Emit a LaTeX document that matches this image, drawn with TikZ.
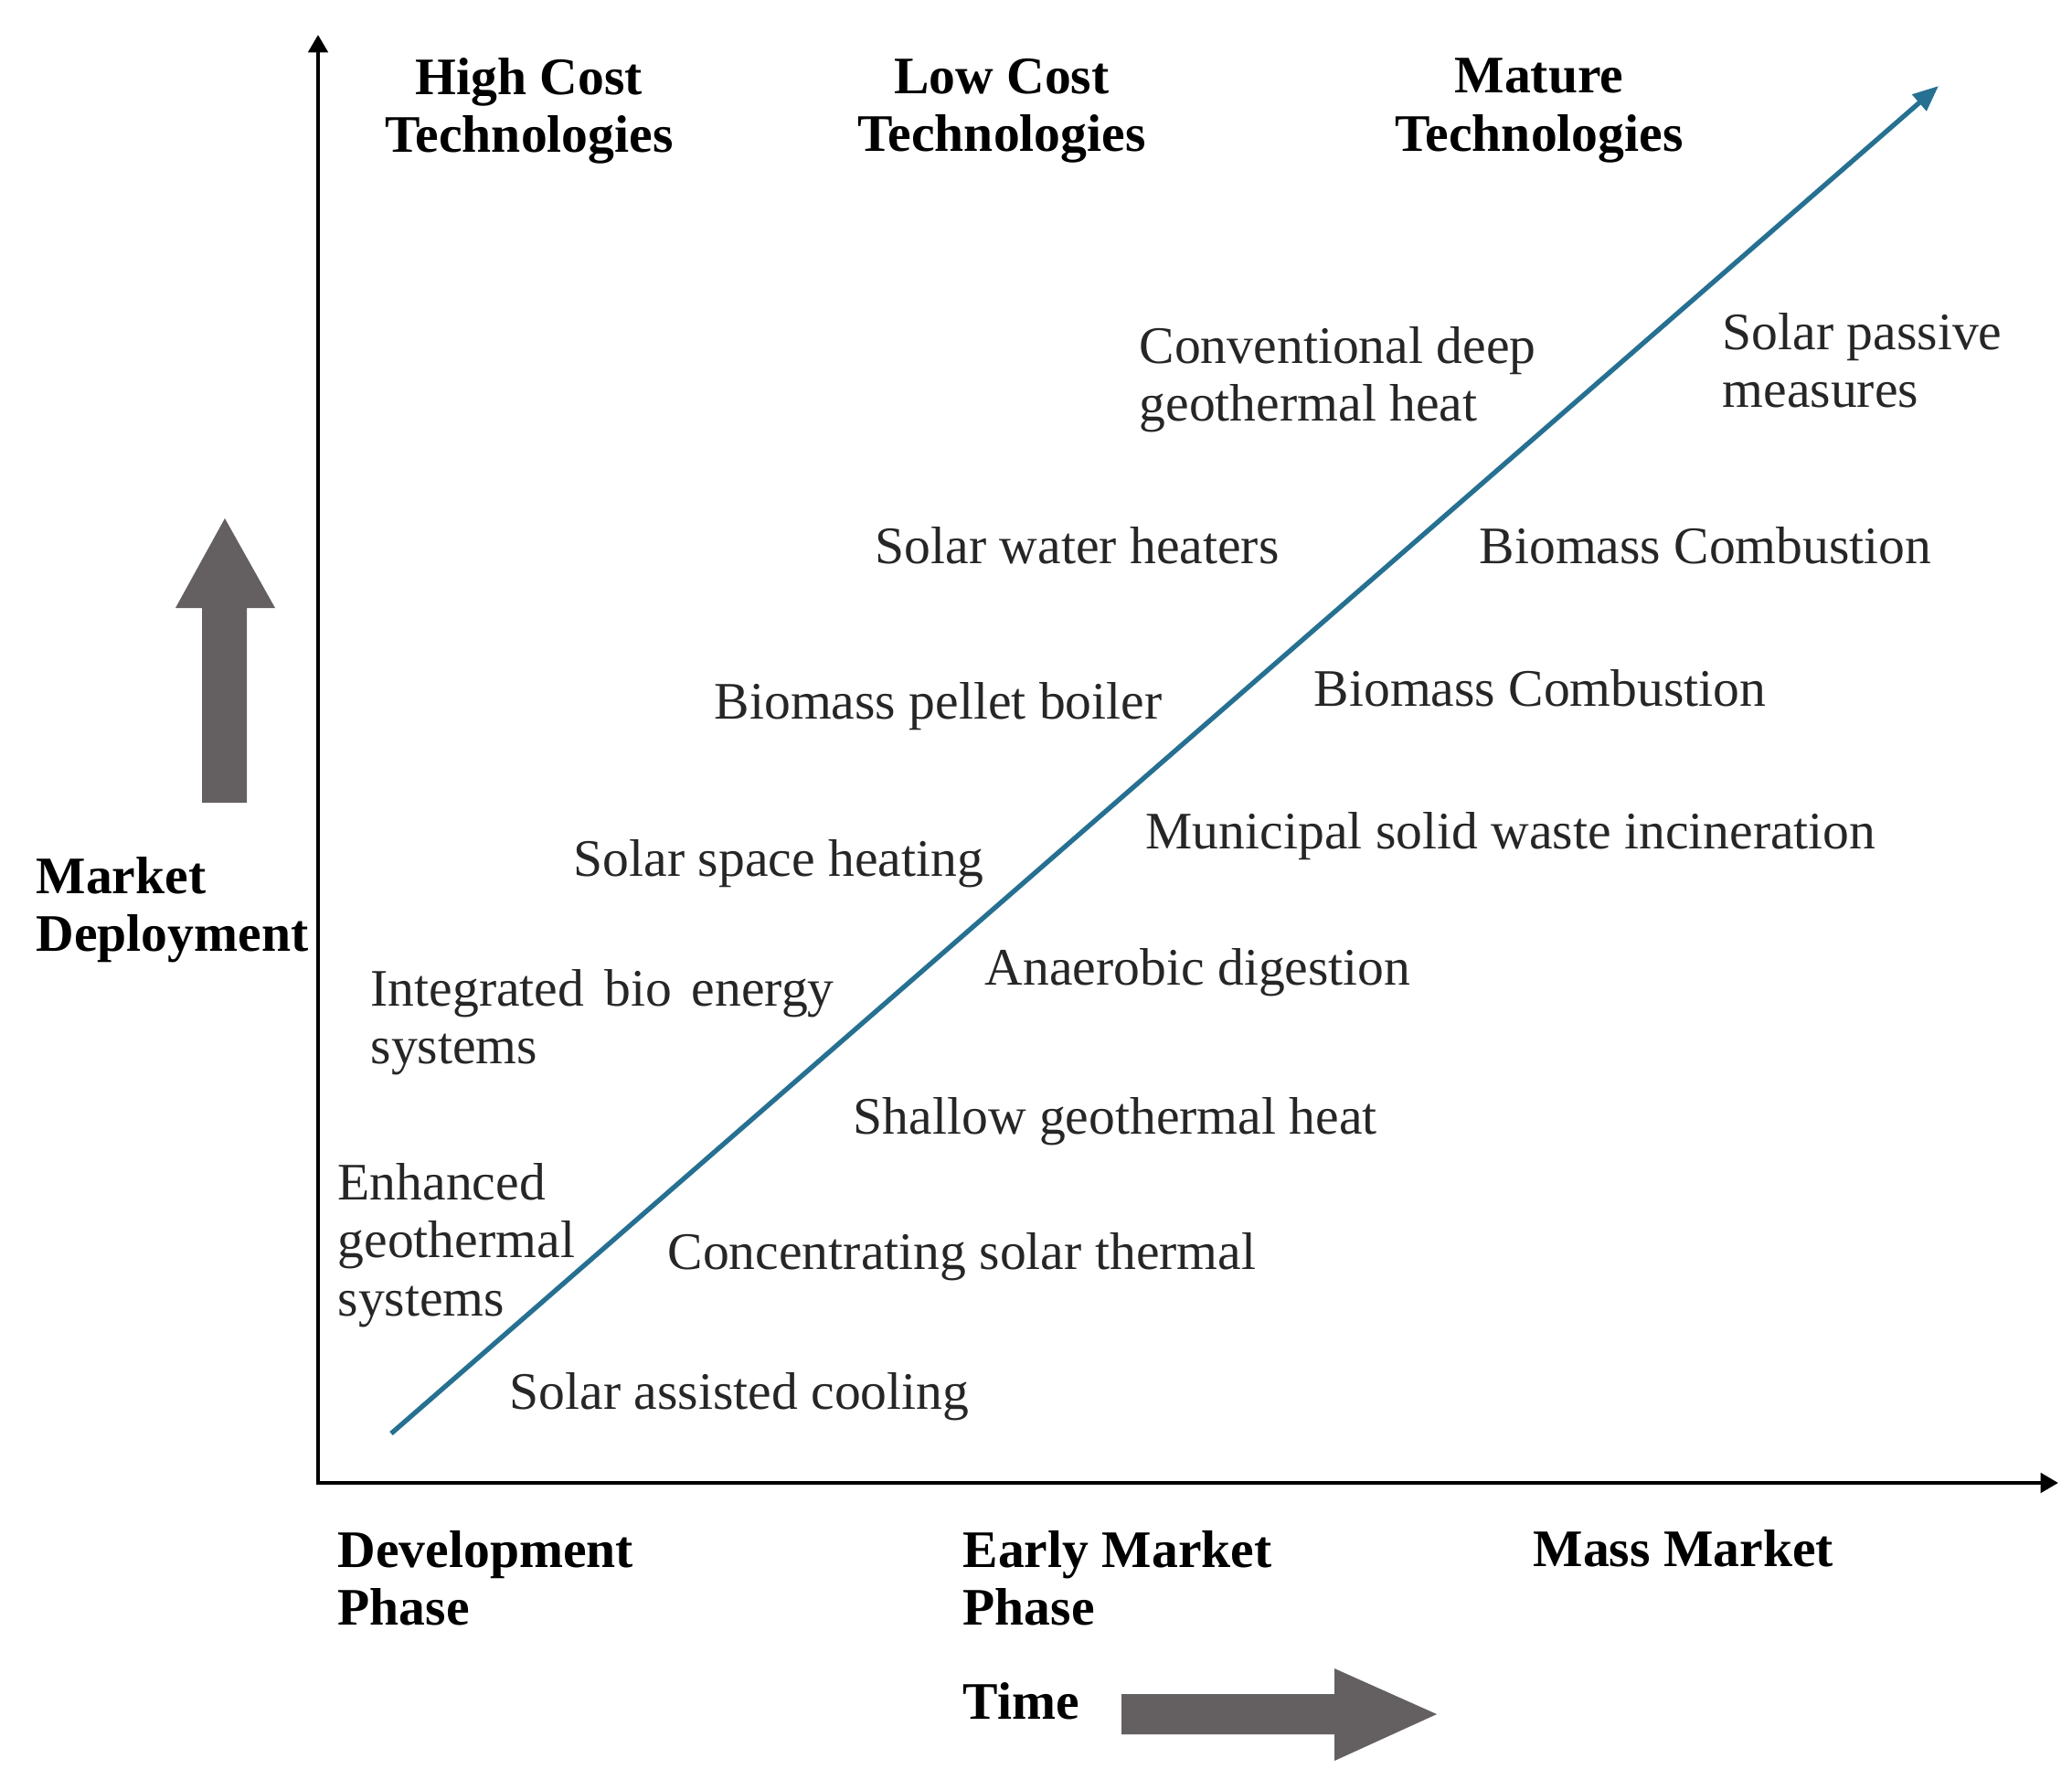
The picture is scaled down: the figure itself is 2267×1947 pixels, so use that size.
\documentclass[tikz,border=0pt]{standalone}
\usepackage{fontspec}
\setmainfont{Liberation Serif}
\usetikzlibrary{arrows.meta}

\definecolor{trendblue}{RGB}{38,112,145}
\definecolor{textgray}{RGB}{38,38,38}
\definecolor{bigarrow}{RGB}{100,96,98}

\begin{document}
\begin{tikzpicture}[x=0.1mm, y=-0.1mm,
  every node/.style={inner sep=0pt, font=\fontsize{16.4}{18}\selectfont},
  head/.style={font=\fontsize{16.4}{18}\selectfont\bfseries, align=center},
  axislabel/.style={font=\fontsize{16.4}{18}\selectfont\bfseries, align=left, anchor=west},
  tech/.style={text=textgray, align=left, anchor=west},
  axisline/.style={line width=1.3pt, {Triangle[length=5.5pt,width=6pt]}-{Triangle[length=5.5pt,width=6pt]}},
  trend/.style={draw=trendblue, line width=1.5pt, -{Triangle[length=8pt,width=6.5pt]}}]
  \useasboundingbox (0,0) rectangle (2267,1947);

  % axes
  \coordinate (ytop) at (348,38);
  \coordinate (origin) at (348,1622);
  \coordinate (xend) at (2252,1622);
  \draw[axisline] (ytop) -- (origin) -- (xend);

  % trend line
  \coordinate (trendstart) at (428,1568);
  \coordinate (trendend) at (2121,94);
  \draw[trend] (trendstart) -- (trendend);

  % big grey arrows
  \fill[bigarrow] (221,878) -- (221,665) -- (192,665) -- (246,567)
    -- (301,665) -- (270,665) -- (270,878) -- cycle;
  \fill[bigarrow] (1227,1853) -- (1460,1853) -- (1460,1825) -- (1572,1875)
    -- (1460,1926) -- (1460,1897) -- (1227,1897) -- cycle;

  % headings
  \node[head] (highcost) at (579,121) {High Cost\\Technologies};
  \node[head] (lowcost) at (1096,121) {Low Cost\\Technologies};
  \node[head] (mature) at (1684,121) {Mature\\Technologies};
  \node[axislabel] (deploy) at (39,995) {Market\\Deployment};
  \node[axislabel] (devphase) at (369,1726) {Development\\Phase};
  \node[axislabel] (earlyphase) at (1053,1726) {Early Market\\Phase};
  \node[axislabel] (massmarket) at (1677,1694) {Mass Market};
  \node[axislabel] (time) at (1053,1861) {Time};

  % technologies
  \node[tech] (convgeo) at (1246,415) {Conventional deep\\geothermal heat};
  \node[tech] (passive) at (1884,394) {Solar passive\\measures};
  \node[tech] (waterheat) at (957,597) {Solar water heaters};
  \node[tech] (biocombup) at (1618,597) {Biomass Combustion};
  \node[tech] (pellet) at (781,773) {Biomass pellet boiler};
  \node[tech] (biocomblow) at (1437,753) {Biomass Combustion};
  \node[tech] (spaceheat) at (627,945) {Solar space heating};
  \node[tech] (msw) at (1253,915) {Municipal solid waste incineration};
  \node[tech] (anaerobic) at (1077,1064) {Anaerobic digestion};
  \node[tech] (integrated) at (405,1118) {Integrated\hspace{0.38em}bio\hspace{0.38em}energy\\systems};
  \node[tech] (shallow) at (933,1227) {Shallow geothermal heat};
  \node[tech] (enhanced) at (369,1362) {Enhanced\\geothermal\\systems};
  \node[tech] (csp) at (730,1375) {Concentrating solar thermal};
  \node[tech] (cooling) at (557,1528) {Solar assisted cooling};
\end{tikzpicture}
\end{document}
